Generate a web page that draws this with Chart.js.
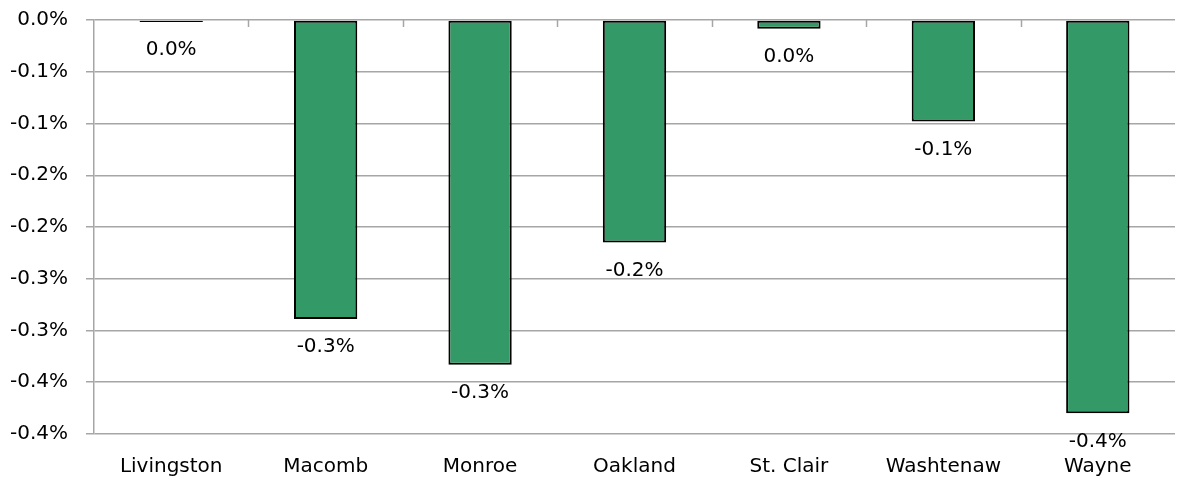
<!DOCTYPE html>
<html>
<head>
<meta charset="utf-8">
<script src="https://cdn.jsdelivr.net/npm/chart.js@4/dist/chart.umd.min.js"></script>
<style>
  html, body { margin: 0; padding: 0; background: #fff; }
  #wrap { width: 1177px; height: 482px; }
</style>
</head>
<body>
<div id="wrap"><canvas id="chart"></canvas></div>
<script>
const counties = ['Livingston', 'Macomb', 'Monroe', 'Oakland', 'St. Clair', 'Washtenaw', 'Wayne']
const changePct = [-0.002, -0.289, -0.333, -0.215, -0.0085, -0.098, -0.38]
const tickLabels = ['0.0%', '-0.1%', '-0.1%', '-0.2%', '-0.2%', '-0.3%', '-0.3%', '-0.4%', '-0.4%']

const FONT = '"DejaVu Sans", sans-serif'
const GRID = '#a6a6a6'

// excel style rounding (half away from zero)
function fmt(v) {
  const r = Math.round(Math.abs(v) * 10 + 1e-9) / 10
  return (v < 0 && r > 0 ? '-' : '') + r.toFixed(1) + '%'
}

const barLabels = {
  id: 'barLabels',
  afterDatasetsDraw(chart) {
    const ctx = chart.ctx
    const meta = chart.getDatasetMeta(0)
    ctx.save()
    ctx.font = '20px ' + FONT
    ctx.fillStyle = '#000'
    ctx.textAlign = 'center'
    ctx.textBaseline = 'middle'
    meta.data.forEach((bar, i) => {
      ctx.fillText(fmt(changePct[i]), bar.x, bar.y + 28)
    })
    ctx.restore()
  }
}

// small category tick marks hanging from the zero line
const catTicks = {
  id: 'catTicks',
  afterDraw(chart) {
    const ctx = chart.ctx
    const x = chart.scales.x
    const y0 = chart.scales.y.getPixelForValue(0)
    ctx.save()
    ctx.strokeStyle = GRID
    ctx.lineWidth = 1.5
    for (let i = 1; i < counties.length; i++) {
      const px = Math.round(x.getPixelForValue(i - 0.5)) + 0.5
      ctx.beginPath()
      ctx.moveTo(px, y0)
      ctx.lineTo(px, y0 + 7)
      ctx.stroke()
    }
    ctx.restore()
  }
}

new Chart(document.getElementById('chart'), {
  type: 'bar',
  data: {
    labels: counties,
    datasets: [{
      data: changePct,
      backgroundColor: '#339966',
      borderColor: '#000',
      borderWidth: 2,
      borderSkipped: false,
      barPercentage: 0.41,
      categoryPercentage: 1
    }]
  },
  options: {
    responsive: true,
    maintainAspectRatio: false,
    animation: false,
    layout: { padding: { top: 20, right: 2, left: 0, bottom: 0 } },
    plugins: {
      legend: { display: false },
      tooltip: { enabled: false }
    },
    scales: {
      x: {
        grid: { display: false },
        border: { display: false },
        ticks: { color: '#000', font: { family: FONT, size: 20 }, padding: 13, maxRotation: 0 },
        afterFit(s) { s.height = 48 }
      },
      y: {
        min: -0.4,
        max: 0,
        ticks: {
          stepSize: 0.05,
          color: '#000',
          font: { family: FONT, size: 20 },
          padding: 18,
          callback: (v, i, ticks) => tickLabels[ticks.length - 1 - i]
        },
        grid: { color: GRID, lineWidth: 1.5, tickLength: 8 },
        border: { display: true, color: GRID, width: 1.5 },
        afterFit(s) {
          s.width = 94
          s.paddingTop = 0
          s.paddingBottom = 0
        }
      }
    }
  },
  plugins: [barLabels, catTicks]
})
</script>
</body>
</html>
